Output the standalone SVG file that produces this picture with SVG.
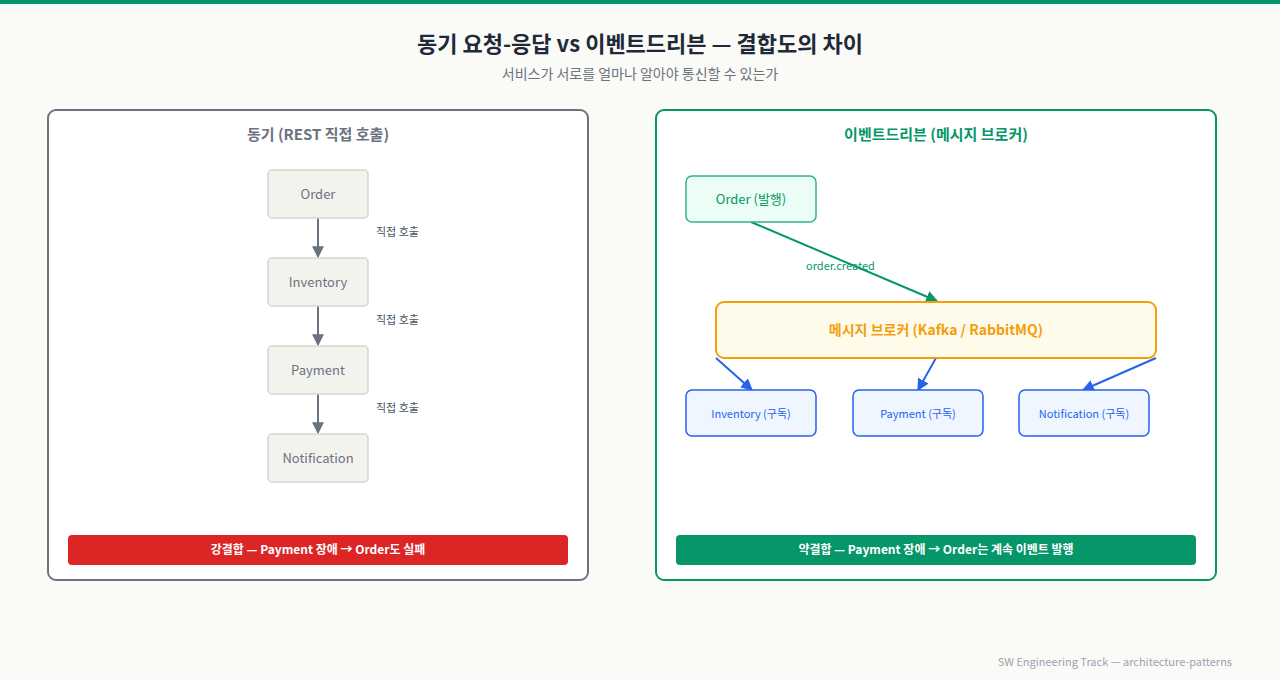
<svg xmlns="http://www.w3.org/2000/svg" width="1280" height="680" viewBox="0 0 1280 680">
<defs>
<style>
text{font-family:"Noto Sans CJK KR","Noto Sans",sans-serif;}
.title{font-size:22px;font-weight:700;fill:#1f2937;text-anchor:middle;}
.sub{font-size:14px;fill:#6b7280;text-anchor:middle;}
.ptitle{font-size:15px;font-weight:700;text-anchor:middle;}
.snode rect{fill:#f3f3ee;stroke:#d6d6d3;stroke-width:1.5;}
.snode text{font-size:13px;fill:#6b7280;text-anchor:middle;}
.elabel{font-size:11px;fill:#4b5563;}
.sub-node rect{fill:#eff6ff;stroke:#2563eb;stroke-width:1.5;}
.sub-node text{font-size:11px;fill:#2563eb;text-anchor:middle;}
.bar text{font-size:12px;font-weight:700;fill:#ffffff;text-anchor:middle;}
</style>
<marker id="ag" viewBox="0 0 10 10" refX="9" refY="5" markerWidth="6" markerHeight="6" orient="auto" markerUnits="strokeWidth"><path d="M0,0 L10,5 L0,10 z" fill="#6b7280"/></marker>
<marker id="agr" viewBox="0 0 10 10" refX="9" refY="5" markerWidth="6" markerHeight="6" orient="auto" markerUnits="strokeWidth"><path d="M0,0 L10,5 L0,10 z" fill="#059669"/></marker>
<marker id="ab" viewBox="0 0 10 10" refX="9" refY="5" markerWidth="6" markerHeight="6" orient="auto" markerUnits="strokeWidth"><path d="M0,0 L10,5 L0,10 z" fill="#2563eb"/></marker>
</defs>
<rect x="0" y="0" width="1280" height="680" fill="#fafaf7"/>
<rect x="0" y="0" width="1280" height="4" fill="#059669"/>
<text class="title" x="640" y="52">동기 요청-응답 vs 이벤트드리븐 — 결합도의 차이</text>
<text class="sub" x="640" y="79">서비스가 서로를 얼마나 알아야 통신할 수 있는가</text>

<g id="panel-sync">
<rect x="48" y="110" width="540" height="470" rx="8" fill="#ffffff" stroke="#6b7280" stroke-width="2"/>
<text class="ptitle" x="318" y="140" fill="#6b7280">동기 (REST 직접 호출)</text>
</g>
<g id="panel-event">
<rect x="656" y="110" width="560" height="470" rx="8" fill="#ffffff" stroke="#059669" stroke-width="2"/>
<text class="ptitle" x="936" y="140" fill="#059669">이벤트드리븐 (메시지 브로커)</text>
</g>

<g id="connectors">
<line x1="318" y1="218" x2="318" y2="257" stroke="#6b7280" stroke-width="2" marker-end="url(#ag)"/>
<line x1="318" y1="306" x2="318" y2="345" stroke="#6b7280" stroke-width="2" marker-end="url(#ag)"/>
<line x1="318" y1="394" x2="318" y2="433" stroke="#6b7280" stroke-width="2" marker-end="url(#ag)"/>
<text class="elabel" x="376" y="236">직접 호출</text>
<text class="elabel" x="376" y="324">직접 호출</text>
<text class="elabel" x="376" y="412">직접 호출</text>
<line x1="751" y1="222" x2="937" y2="301" stroke="#059669" stroke-width="2" marker-end="url(#agr)"/>
<text x="806" y="270" font-size="11" fill="#059669">order.created</text>
<line x1="716" y1="358" x2="752" y2="390" stroke="#2563eb" stroke-width="2" marker-end="url(#ab)"/>
<line x1="936" y1="358" x2="918" y2="390" stroke="#2563eb" stroke-width="2" marker-end="url(#ab)"/>
<line x1="1156" y1="358" x2="1083" y2="390" stroke="#2563eb" stroke-width="2" marker-end="url(#ab)"/>
</g>

<g id="s-order" class="snode"><rect x="268" y="170" width="100" height="48" rx="4"/><text x="318" y="199">Order</text></g>
<g id="s-inventory" class="snode"><rect x="268" y="258" width="100" height="48" rx="4"/><text x="318" y="287">Inventory</text></g>
<g id="s-payment" class="snode"><rect x="268" y="346" width="100" height="48" rx="4"/><text x="318" y="375">Payment</text></g>
<g id="s-notification" class="snode"><rect x="268" y="434" width="100" height="48" rx="4"/><text x="318" y="463">Notification</text></g>

<g id="e-order"><rect x="686" y="176" width="130" height="46" rx="6" fill="#ecfdf5" stroke="#34b38a" stroke-width="1.5"/><text x="751" y="204" font-size="13" fill="#059669" text-anchor="middle">Order (발행)</text></g>
<g id="broker"><rect x="716" y="302" width="440" height="56" rx="8" fill="#fffbeb" stroke="#f59e0b" stroke-width="2"/><text x="936" y="335" font-size="14" font-weight="700" fill="#f59e0b" text-anchor="middle">메시지 브로커 (Kafka / RabbitMQ)</text></g>
<g id="e-inventory" class="sub-node"><rect x="686" y="390" width="130" height="46" rx="6"/><text x="751" y="418">Inventory (구독)</text></g>
<g id="e-payment" class="sub-node"><rect x="853" y="390" width="130" height="46" rx="6"/><text x="918" y="418">Payment (구독)</text></g>
<g id="e-notification" class="sub-node"><rect x="1019" y="390" width="130" height="46" rx="6"/><text x="1084" y="418">Notification (구독)</text></g>

<g id="bar-sync" class="bar"><rect x="68" y="535" width="500" height="30" rx="4" fill="#dc2626"/><text x="318" y="554">강결합 — Payment 장애 → Order도 실패</text></g>
<g id="bar-event" class="bar"><rect x="676" y="535" width="520" height="30" rx="4" fill="#059669"/><text x="936" y="554">약결합 — Payment 장애 → Order는 계속 이벤트 발행</text></g>

<text x="1232" y="666" font-size="11" fill="#9ca3af" text-anchor="end">SW Engineering Track — architecture-patterns</text>
</svg>
